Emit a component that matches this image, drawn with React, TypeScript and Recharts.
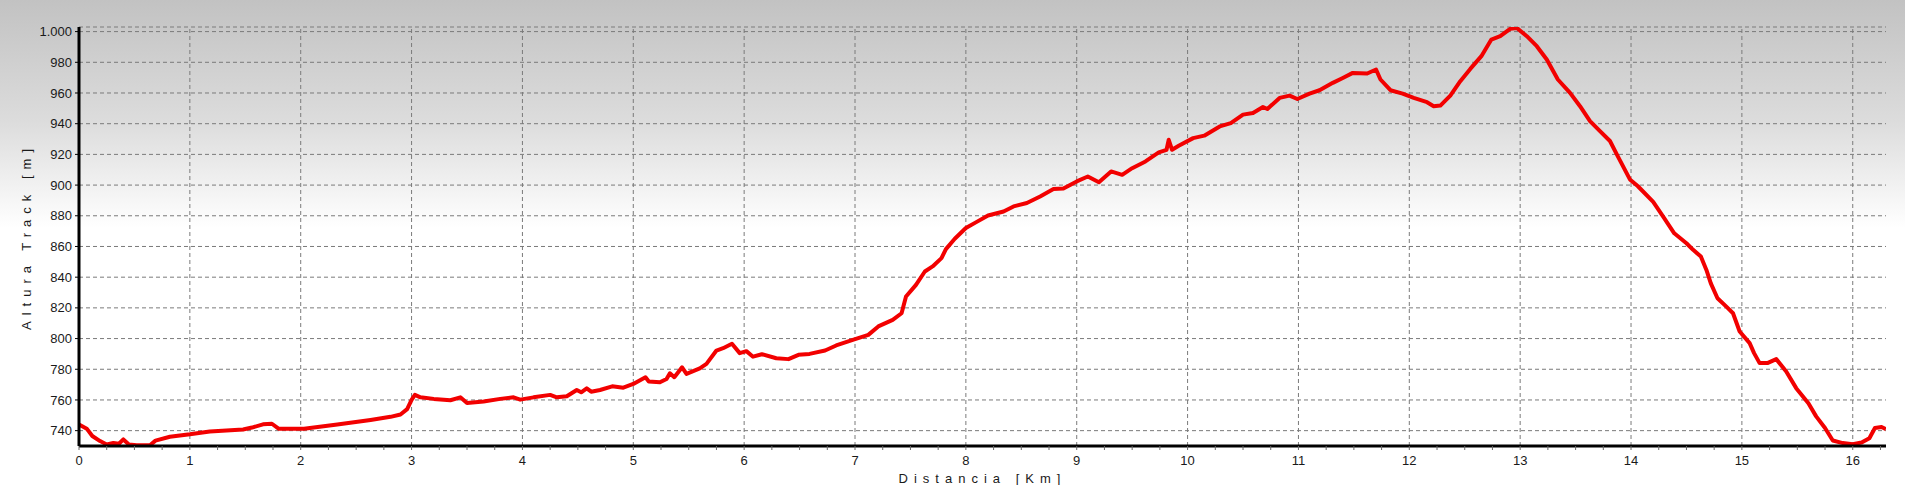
import React from 'react';
import { LineChart, Line, XAxis, YAxis, CartesianGrid, ReferenceLine, Label } from 'recharts';

const distanceKm = [
  0.0, 0.07, 0.12, 0.19, 0.25, 0.31, 0.36, 0.4, 0.45, 0.52, 0.64, 0.69, 0.82, 1.0, 1.18, 1.48, 1.56, 1.66, 1.74, 1.8,
  2.03, 2.33, 2.63, 2.81, 2.9, 2.96, 3.0, 3.03, 3.08, 3.2, 3.35, 3.44, 3.5, 3.65, 3.8, 3.92, 3.98, 4.1, 4.25, 4.31,
  4.4, 4.49, 4.53, 4.58, 4.62, 4.7, 4.81, 4.91, 5.0, 5.11, 5.14, 5.24, 5.3, 5.33, 5.37, 5.44, 5.48, 5.6, 5.66, 5.75,
  5.81, 5.89, 5.96, 6.02, 6.08, 6.16, 6.29, 6.4, 6.49, 6.59, 6.73, 6.83, 6.98, 7.12, 7.21, 7.34, 7.42, 7.46, 7.55, 7.63,
  7.7, 7.78, 7.82, 7.9, 8.0, 8.09, 8.2, 8.34, 8.43, 8.55, 8.67, 8.79, 8.88, 9.0, 9.1, 9.2, 9.31, 9.41, 9.5, 9.62,
  9.74, 9.81, 9.83, 9.86, 9.92, 10.05, 10.15, 10.29, 10.39, 10.5, 10.59, 10.68, 10.72, 10.83, 10.92, 10.99, 11.1, 11.19, 11.31, 11.4,
  11.49, 11.62, 11.7, 11.74, 11.83, 11.94, 12.04, 12.16, 12.22, 12.28, 12.37, 12.46, 12.55, 12.65, 12.74, 12.82, 12.91, 12.97, 13.06, 13.15,
  13.24, 13.34, 13.45, 13.54, 13.63, 13.72, 13.81, 13.88, 13.99, 14.06, 14.2, 14.29, 14.39, 14.5, 14.56, 14.63, 14.68, 14.72, 14.78, 14.86,
  14.92, 14.98, 15.07, 15.11, 15.16, 15.23, 15.31, 15.4, 15.49, 15.6, 15.67, 15.75, 15.82, 15.91, 16.0, 16.08, 16.15, 16.2, 16.26, 16.3,
];

const altitudeM = [
  744, 741.3, 736.5, 733.2, 731, 732, 731.5, 734.3, 731, 730.5, 730.5, 733.5, 736, 737.6, 739.5, 740.8, 742, 744.1, 744.5, 741.3,
  741.3, 744, 747, 749, 750.5, 754, 760, 763.3, 761.7, 760.7, 759.8, 761.7, 758, 759, 760.7, 761.7, 760.2, 761.7, 763.3, 761.7,
  762.4, 766.5, 765, 767.6, 765.4, 766.5, 768.9, 768, 770.4, 774.8, 772, 771.5, 773.7, 777.4, 774.8, 781.3, 777, 780.6, 783.5, 792.2,
  793.7, 796.6, 790.5, 791.8, 788.2, 789.8, 787.2, 786.6, 789.4, 790, 792.2, 795.5, 799.2, 802.4, 807.9, 812.2, 816.5, 827.4, 835, 843.7,
  847, 852.4, 858.3, 865, 872, 875.7, 880.2, 882.8, 886.1, 888.3, 892.6, 897.4, 897.8, 902.4, 905.6, 901.9, 908.9, 906.7, 911, 915.4,
  921.3, 923, 929.5, 923, 925.6, 930.6, 932.2, 938.2, 940.4, 945.9, 947, 950.9, 949.6, 956.8, 958.3, 956.1, 959.6, 961.8, 966.6, 969.8,
  973.1, 972.7, 975.3, 968.8, 961.8, 959.6, 956.8, 954, 951.4, 951.8, 958.3, 967.7, 975.7, 984, 994.8, 997, 1001.8, 1002.4, 997, 990.5,
  981.8, 968.8, 960.1, 951.4, 941.7, 935.2, 928.7, 918.9, 903.7, 899.4, 889, 879.5, 868.6, 862.1, 857.8, 853.4, 844.7, 836, 826.3, 820.8,
  816.5, 804.6, 797, 790.5, 784, 784, 786.6, 778.6, 767.7, 757.9, 749.3, 741.7, 733.6, 731.9, 731.2, 732.3, 735.1, 741.7, 742.4, 741,
];

const xMajorTicks = [0, 1, 2, 3, 4, 5, 6, 7, 8, 9, 10, 11, 12, 13, 14, 15, 16];
const xMinorStep = 0.25;
const yTicks = [740, 760, 780, 800, 820, 840, 860, 880, 900, 920, 940, 960, 980, 1000];
const xTitle = 'Distancia [Km]';
const yTitle = 'Altura Track [m]';

const data = distanceKm.map((d, i) => ({ d, alt: altitudeM[i] }));
const xAllTicks: number[] = [];
for (let i = 0; i <= Math.round(16.3 / xMinorStep); i++) xAllTicks.push(i * xMinorStep);

const fmtY = (v: number) => {
  const s = String(Math.round(v));
  return s.replace(/\B(?=(\d{3})+(?!\d))/g, '.');
};
const fmtX = (v: number) => (Math.abs(v - Math.round(v)) < 1e-6 ? String(Math.round(v)) : '');

const font = '"Liberation Sans", Arial, sans-serif';
const tickStyle = { fontSize: 13, fill: '#1a1a1a', fontFamily: font };

export default function App() {
  return (
    <div
      style={{
        position: 'absolute',
        left: 0,
        top: 0,
        width: 1905,
        height: 485,
        background: 'linear-gradient(to bottom, #c2c2c2 0%, #dcdcdc 25%, #ffffff 47%, #ffffff 100%)',
      }}
    >
      <LineChart width={1905} height={485} data={data} margin={{ top: 27, right: 19, left: 0, bottom: 0 }}>
        <CartesianGrid vertical={false} stroke="#7a7a7a" strokeDasharray="4 3" />
        {xMajorTicks.slice(1).map((k) => (
          <ReferenceLine key={k} x={k} stroke="#7a7a7a" strokeDasharray="4 3" ifOverflow="hidden" />
        ))}
        <XAxis
          dataKey="d"
          type="number"
          domain={[0, 16.3]}
          ticks={xAllTicks}
          tickFormatter={fmtX}
          interval={0}
          allowDataOverflow
          height={39}
          tick={tickStyle}
          tickSize={4}
          tickMargin={6}
          tickLine={{ stroke: '#666' }}
          axisLine={{ stroke: '#000', strokeWidth: 3 }}
        >
          <Label
            value={xTitle}
            position="insideBottom"
            offset={2}
            style={{ fontSize: 13, fill: '#1a1a1a', fontFamily: font, letterSpacing: 6 }}
          />
        </XAxis>
        <XAxis
          xAxisId="top"
          orientation="top"
          type="number"
          domain={[0, 16.3]}
          height={0}
          tick={false}
          tickLine={false}
          axisLine={{ stroke: '#000', strokeWidth: 3 }}
        />
        <YAxis
          type="number"
          domain={[730, 1003]}
          ticks={yTicks}
          tickFormatter={fmtY}
          interval={0}
          allowDataOverflow
          width={79}
          tick={tickStyle}
          tickSize={4}
          tickMargin={3}
          tickLine={{ stroke: '#000' }}
          axisLine={{ stroke: '#000', strokeWidth: 3 }}
        >
          <Label
            value={yTitle}
            angle={-90}
            position="insideLeft"
            offset={26}
            style={{ fontSize: 13, fill: '#1a1a1a', fontFamily: font, letterSpacing: 6, textAnchor: 'middle' }}
          />
        </YAxis>
        <YAxis
          yAxisId="right"
          orientation="right"
          type="number"
          domain={[730, 1003]}
          width={0}
          tick={false}
          tickLine={false}
          axisLine={{ stroke: '#000', strokeWidth: 1.5 }}
        />
        <Line
          type="linear"
          dataKey="alt"
          stroke="#f20000"
          strokeWidth={4}
          dot={false}
          isAnimationActive={false}
          strokeLinejoin="round"
        />
      </LineChart>
    </div>
  );
}
